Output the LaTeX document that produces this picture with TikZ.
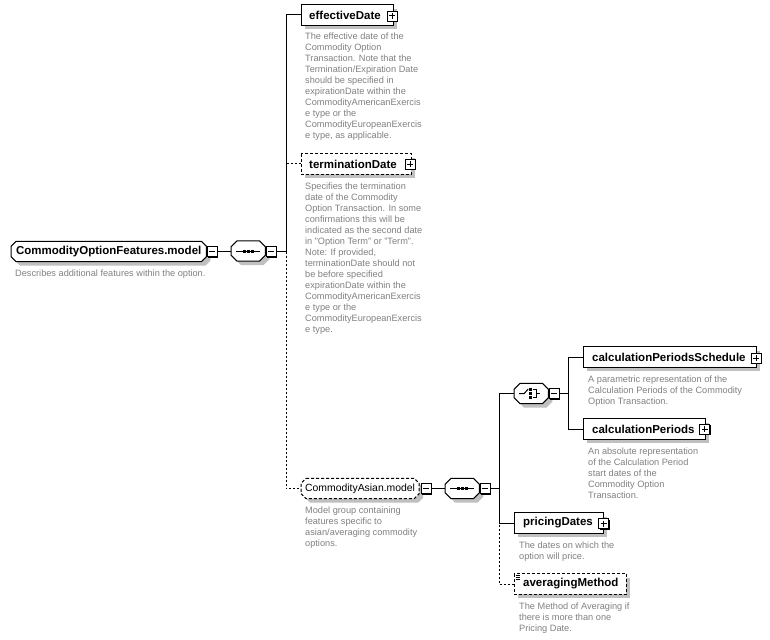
\documentclass[tikz,border=0pt]{standalone}
\usepackage{fontspec}
\setmainfont{Liberation Sans}
\usetikzlibrary{backgrounds,shadows}
\definecolor{desc}{RGB}{128,128,128}
\definecolor{shadowc}{RGB}{192,192,192}
\tikzset{
  ttl/.style={font=\fontsize{11.5}{13}\selectfont\bfseries, inner ysep=0pt, minimum height=20pt, anchor=west},
  ttlr/.style={font=\fontsize{10.4}{12}\selectfont, inner ysep=0pt, minimum height=20pt, anchor=west},
  grp/.style={minimum width=34pt, minimum height=20pt, inner sep=0pt, anchor=west},
  dsc/.style={font=\fontsize{9.2}{11}\selectfont, text=desc, align=left, inner sep=0pt, anchor=north west},
  pmbox/.style={draw, fill=white, minimum size=10pt, inner sep=0pt, line width=0.8pt,
    drop shadow={shadow xshift=1pt, shadow yshift=-1pt, fill=black, opacity=1}},
  minusbox/.style={pmbox, path picture={\draw[line width=1pt] ([xshift=2pt]path picture bounding box.west) -- ([xshift=-2pt]path picture bounding box.east);}},
  plusbox/.style={pmbox, path picture={\draw[line width=1pt] ([xshift=2pt]path picture bounding box.west) -- ([xshift=-2pt]path picture bounding box.east) ([yshift=-2pt]path picture bounding box.north) -- ([yshift=2pt]path picture bounding box.south);}},
  conn/.style={line width=1pt},
  dconn/.style={line width=1pt, dash pattern=on 2pt off 2pt},
  dborder/.style={dash pattern=on 3pt off 2pt},
}
\newcommand{\rectshape}[2]{%
  \fill[shadowc, transform canvas={xshift=4pt,yshift=-4pt}] (#1.north west) rectangle (#1.south east);
  \filldraw[fill=white, line width=1pt, #2] (#1.north west) rectangle (#1.south east);}
\newcommand{\octshape}[3]{%
  \fill[shadowc, transform canvas={xshift=4pt,yshift=-4pt}] ([xshift=#2]#1.north west) -- ([xshift=-#2]#1.north east) -- ([yshift=-#2]#1.north east) -- ([yshift=#2]#1.south east) -- ([xshift=-#2]#1.south east) -- ([xshift=#2]#1.south west) -- ([yshift=#2]#1.south west) -- ([yshift=-#2]#1.north west) -- cycle;
  \filldraw[fill=white, line width=1pt, #3] ([xshift=#2]#1.north west) -- ([xshift=-#2]#1.north east) -- ([yshift=-#2]#1.north east) -- ([yshift=#2]#1.south east) -- ([xshift=-#2]#1.south east) -- ([xshift=#2]#1.south west) -- ([yshift=#2]#1.south west) -- ([yshift=-#2]#1.north west) -- cycle;}
\newcommand{\seqicon}[1]{%
  \draw[line width=1pt] ([xshift=5pt]#1.west) -- ([xshift=-5pt]#1.east);
  \foreach \dx in {-4,0,4} {\fill ([xshift=\dx pt-1.5pt,yshift=-1.5pt]#1.center) rectangle ([xshift=\dx pt+1.5pt,yshift=1.5pt]#1.center);}}
\newcommand{\choiceicon}[1]{%
  \draw[line width=1pt] ([xshift=5pt]#1.west) -- ([xshift=-7pt]#1.center) -- ([xshift=-3pt,yshift=4.5pt]#1.center);
  \foreach \dy in {-4,0,4} {\fill ([xshift=-2.2pt,yshift=\dy pt-1.2pt]#1.center) rectangle ([xshift=0.4pt,yshift=\dy pt+1.2pt]#1.center);}
  \draw[line width=1pt] ([xshift=1.5pt,yshift=4pt]#1.center) -- ([xshift=5pt,yshift=4pt]#1.center) -- ([xshift=5pt,yshift=-4pt]#1.center) -- ([xshift=1.5pt,yshift=-4pt]#1.center)
    ([xshift=5pt]#1.center) -- ([xshift=9pt]#1.center);}
\begin{document}
\begin{tikzpicture}[x=1pt,y=-1pt]
\useasboundingbox (0,0) rectangle (770,639);
% ---------- nodes ----------
\node[ttl, inner xsep=4pt, minimum width=195pt] (cof) at (11,251.5) {CommodityOptionFeatures.model};
\node[minusbox] (cofm) at (212,251.5) {};
\node[grp] (seq1) at (231,251) {};
\node[minusbox] (seq1m) at (271,251.5) {};

\node[ttl, inner xsep=8pt, minimum width=92pt, text width=76pt, align=left] (eff) at (301,15) {effectiveDate};
\node[plusbox] (effp) at (392,16) {};
\node[ttl, inner xsep=8pt, minimum width=110pt, text width=94pt, align=left] (term) at (301,164) {terminationDate};
\node[plusbox] (termp) at (410,164.5) {};

\node[ttlr, inner xsep=4pt, minimum width=117pt] (asian) at (301,488.5) {CommodityAsian.model};
\node[minusbox] (asianm) at (426,488.5) {};
\node[grp] (seq2) at (445,488.5) {};
\node[minusbox] (seq2m) at (485,488.5) {};

\node[grp] (choice) at (514,393.5) {};
\node[minusbox] (chm) at (554,393.5) {};

\node[ttl, inner xsep=9pt, minimum width=173pt, text width=155pt, align=left] (cps) at (583,357) {calculationPeriodsSchedule};
\node[plusbox] (cpsp) at (756,358) {};
\node[ttl, inner xsep=9pt, minimum width=122pt, text width=104pt, align=left] (cp) at (583,429) {calculationPeriods};
\node[plusbox] (cpp) at (704.5,429) {};
\node[ttl, inner xsep=9pt, minimum width=89pt, text width=71pt, align=left] (pd) at (514,523) {pricingDates};
\node[plusbox] (pdp) at (603.5,523.5) {};
\node[ttl, inner xsep=9pt, minimum width=112pt, text width=94pt, align=left] (am) at (514,584) {averagingMethod};

% ---------- descriptions ----------
\node[dsc] (cofd) at (15,270) {Describes additional features within the option.};
\node[dsc] (effd) at (305,33) {The effective date of the\\Commodity Option\\Transaction. Note that the\\Termination/Expiration Date\\should be specified in\\expirationDate within the\\CommodityAmericanExercis\\e type or the\\CommodityEuropeanExercis\\e type, as applicable.};
\node[dsc] (termd) at (305,183) {Specifies the termination\\date of the Commodity\\Option Transaction. In some\\confirmations this will be\\indicated as the second date\\in "Option Term" or "Term".\\Note: If provided,\\terminationDate should not\\be before specified\\expirationDate within the\\CommodityAmericanExercis\\e type or the\\CommodityEuropeanExercis\\e type.};
\node[dsc] (asiand) at (305,507) {Model group containing\\features specific to\\asian/averaging commodity\\options.};
\node[dsc] (cpsd) at (588,376) {A parametric representation of the\\Calculation Periods of the Commodity\\Option Transaction.};
\node[dsc] (cpd) at (588,448) {An absolute representation\\of the Calculation Period\\start dates of the\\Commodity Option\\Transaction.};
\node[dsc] (pdd) at (519,542) {The dates on which the\\option will price.};
\node[dsc] (amd) at (519,603) {The Method of Averaging if\\there is more than one\\Pricing Date.};

% ---------- shapes on background ----------
\begin{scope}[on background layer]
  \octshape{cof}{5pt}{}
  \octshape{seq1}{6pt}{}
  \octshape{asian}{5pt}{dborder}
  \octshape{seq2}{6pt}{}
  \octshape{choice}{6pt}{}
  \rectshape{eff}{}
  \rectshape{term}{dborder}
  \rectshape{cps}{}
  \rectshape{cp}{}
  \rectshape{pd}{}
  \rectshape{am}{dborder}
\end{scope}
\seqicon{seq1}
\seqicon{seq2}
\choiceicon{choice}
\draw[line width=0.8pt] ([xshift=1.5pt,yshift=-1.5pt]am.north west) -- ++(4,0) ([xshift=1.5pt,yshift=-3.5pt]am.north west) -- ++(4,0) ([xshift=1.5pt,yshift=-5.5pt]am.north west) -- ++(4,0);

% ---------- connectors ----------
\coordinate (bus1) at (286,251.5);
\coordinate (bus2) at (499,488.5);
\coordinate (bus3) at (568,393.5);
\draw[conn] (cofm.east) -- (seq1.west |- cofm.east);
\draw[conn] (seq1m.east) -- (bus1) |- (eff.west);
\draw[dconn] (bus1) |- (term.west);
\draw[dconn] (bus1) |- (asian.west);
\draw[conn] (asianm.east) -- (seq2.west);
\draw[conn] (seq2m.east) -- (bus2) |- (choice.west);
\draw[conn] (bus2) |- (pd.west);
\draw[dconn] (bus2) |- (am.west);
\draw[conn] (chm.east) -- (bus3) |- (cps.west);
\draw[conn] (bus3) |- (cp.west);
\end{tikzpicture}
\end{document}
